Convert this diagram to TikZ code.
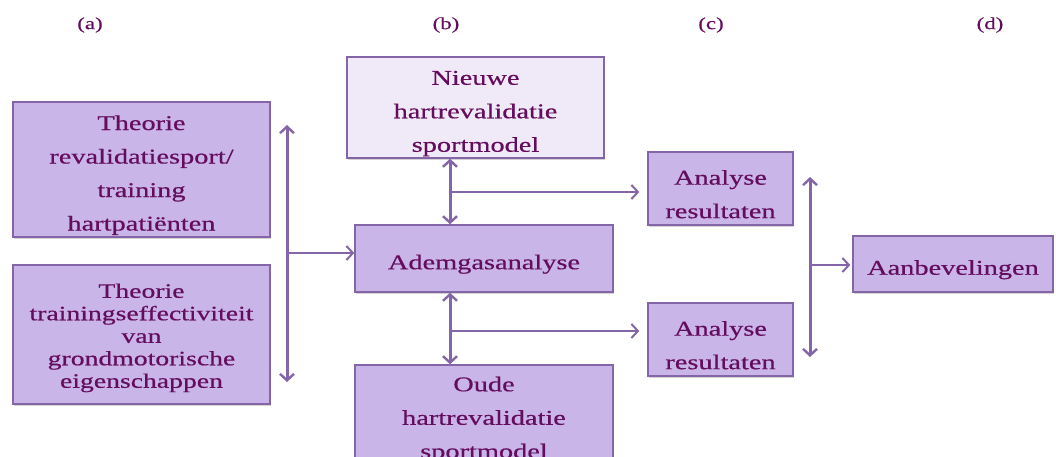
\documentclass[tikz,border=0pt]{standalone}
\usepackage{fontspec}
\setmainfont{Liberation Serif}[FakeStretch=1.35,FakeBold=0.5]
\usetikzlibrary{arrows.meta,shadows}
\definecolor{boxfill}{HTML}{C9B5E7}
\definecolor{boxlight}{HTML}{F0E9F8}
\definecolor{boxline}{HTML}{8466A8}
\definecolor{txt}{HTML}{640C5E}
\newcommand{\tstrut}{\rule{0pt}{26pt}}
\tikzset{
  box/.style={draw=boxline, line width=1.4pt, fill=boxfill, text=txt, align=center,
    inner sep=0pt, font=\fontsize{21}{33.5}\selectfont,
    drop shadow={shadow xshift=1.2pt, shadow yshift=-1.5pt, opacity=0.35, fill=gray}},
  lightbox/.style={box, fill=boxlight},
  tight/.style={font=\fontsize{20.5}{22.5}\selectfont},
  conn/.style={draw=boxline, line width=2.2pt, arrows={-Straight Barb[length=6.5pt,width=14pt,line width=2pt]}},
  dconn/.style={draw=boxline, line width=3pt, arrows={Straight Barb[length=6.5pt,width=14pt,line width=2.4pt]-Straight Barb[length=6.5pt,width=14pt,line width=2.4pt]}},
  lab/.style={text=txt, font=\fontsize{17}{20}\selectfont}
}
\begin{document}
\begin{tikzpicture}[x=1pt,y=-1pt]
\useasboundingbox (0,0) rectangle (1056,456);
\node[lab] (la) at (90,25) {(a)};
\node[lab] (lb) at (446,25) {(b)};
\node[lab] (lc) at (711,25) {(c)};
\node[lab] (ld) at (990,25) {(d)};

\node[box, minimum width=257pt, minimum height=135pt] (a1) at (141.5,169.5)
  {\tstrut Theorie\\revalidatiesport/\\training\\hartpatiënten};
\node[box, tight, minimum width=257pt, minimum height=139pt] (a2) at (141.5,334.5)
  {\rule{0pt}{21pt}Theorie\\trainingseffectiviteit\\van\\grondmotorische\\eigenschappen};
\node[lightbox, minimum width=257pt, minimum height=101pt] (nw) at (475.5,107.5)
  {\tstrut Nieuwe\\hartrevalidatie\\sportmodel};
\node[box, minimum width=258pt, minimum height=67pt] (ad) at (484,258.5)
  {\tstrut Ademgasanalyse};
\node[box, minimum width=258pt, minimum height=98pt] (od) at (484,414)
  {\tstrut Oude\\hartrevalidatie\\sportmodel};
\node[box, minimum width=145pt, minimum height=73pt] (r1) at (720.5,188.5)
  {\tstrut Analyse\\resultaten};
\node[box, minimum width=145pt, minimum height=73pt] (r2) at (720.5,339.5)
  {\tstrut Analyse\\resultaten};
\node[box, minimum width=200pt, minimum height=56pt] (ab) at (953,264)
  {\tstrut Aanbevelingen};

% left
\coordinate (lt) at (287,125);
\coordinate (lbm) at (287,382);
\coordinate (lj) at (287,253);
\draw[dconn] (lt) -- (lbm);
\draw[conn] (lj) -- (lj -| ad.west);

% middle
\coordinate (m1) at (450,192);
\coordinate (m2) at (450,331);
\draw[dconn] (m1 |- nw.south) -- (m1 |- ad.north);
\draw[conn, shorten >=8pt] (m1) -- (m1 -| r1.west);
\draw[dconn] (m2 |- ad.south) -- (m2 |- od.north);
\draw[conn, shorten >=8pt] (m2) -- (m2 -| r2.west);

% right
\coordinate (rt) at (810,177);
\coordinate (rb) at (810,357);
\coordinate (rj) at (810,265);
\draw[dconn] (rt) -- (rb);
\draw[conn, shorten >=2pt] (rj) -- (rj -| ab.west);
\end{tikzpicture}
\end{document}
